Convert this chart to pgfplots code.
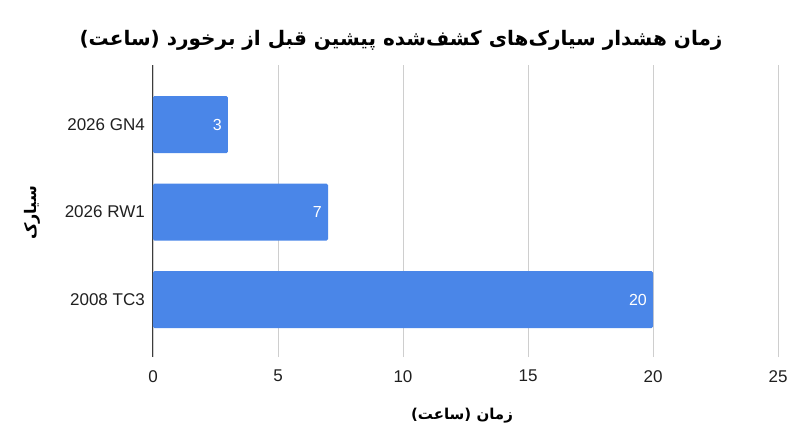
\documentclass[border=0pt]{standalone}
\usepackage{fontspec}
\setmainfont{Liberation Sans}
\newfontfamily\arabicfont[Script=Arabic]{DejaVu Sans}
\usepackage{pgfplots}
\pgfplotsset{compat=1.18}
\TeXXeTstate=1
\definecolor{barblue}{RGB}{74,134,232}
\definecolor{gridgray}{RGB}{206,206,206}
\definecolor{axisgray}{RGB}{60,60,60}

\begin{document}
\begin{tikzpicture}[x=1pt,y=1pt]
% axis box sits at the origin; picture is 800 x 447 around it
\useasboundingbox (-153,-90) rectangle (647,357);
\begin{axis}[
    anchor=south west,
    scale only axis, width=625pt, height=292pt,
    xbar, bar width=57pt,
    xmin=0, xmax=25, ymin=-0.657, ymax=2.68,
    xtick={0,5,...,25}, ytick={0,1,2},
    yticklabels={2008 TC3, 2026 RW1, 2026 GN4},
    axis line style={draw=none},
    major tick length=0pt,
    xmajorgrids, grid style={gridgray, line width=0.8pt},
    extra x ticks={0}, extra x tick labels={},
    extra x tick style={grid style={axisgray, line width=1pt}},
    tick label style={font=\fontsize{17}{20}\selectfont, text=black!88, inner sep=0pt},
    /pgf/number format/assume math mode=true,
    xticklabel style={yshift=-13pt},
    yticklabel style={xshift=-8pt},
    nodes near coords,
    every node near coord/.append style={anchor=east, text=white, inner sep=0pt,
        xshift=-6pt, font=\fontsize{16}{19}\selectfont},
]
\addplot[fill=barblue, draw=none, rounded corners=1.5pt] coordinates {(20,0) (7,1) (3,2)};
\end{axis}
\node[font=\arabicfont\bfseries\fontsize{20}{24}\selectfont] at (248,317)
    {\beginR زمان هشدار سیارک‌های کشف‌شده پیشین قبل از برخورد (ساعت)\endR};
\node[font=\arabicfont\bfseries\fontsize{16}{20}\selectfont, rotate=90] at (-121,144)
    {\beginR سیارک\endR};
\node[font=\arabicfont\bfseries\fontsize{15}{18}\selectfont] at (309,-59)
    {\beginR زمان (ساعت)\endR};
\end{tikzpicture}
\end{document}
